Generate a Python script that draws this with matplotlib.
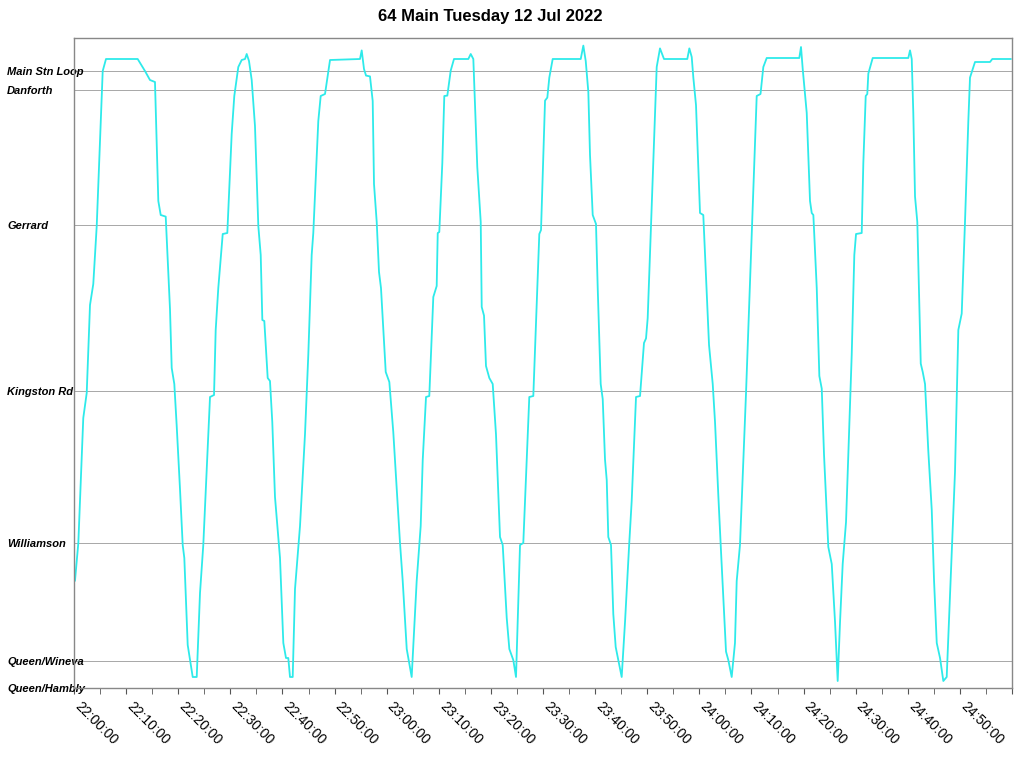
import numpy as np
import matplotlib
matplotlib.use("Agg")
import matplotlib.pyplot as plt
from matplotlib.ticker import MultipleLocator, FuncFormatter

plt.rcParams['font.family'] = ['Liberation Sans', 'DejaVu Sans']

# stops, distance from Queen/Hambly (metres)
stops = ["Queen/Hambly", "Queen/Wineva", "Williamson", "Kingston Rd",
         "Gerrard", "Danforth", "Main Stn Loop"]
stop_dist = [0, 135, 725, 1485, 2315, 2990, 3085]

# minutes after 22:00, distance (metres)
t_min = [0.19, 0.83, 1.78, 2.44, 3.07, 3.70, 4.36, 5.51, 6.14, 12.22,
         13.62, 14.58, 15.54, 16.18, 16.64, 17.60, 18.42, 18.75, 19.25, 19.71,
         20.34, 20.86, 21.17, 21.82, 22.78, 23.55, 24.18, 24.81, 26.10, 26.87,
         27.19, 27.69, 28.54, 29.42, 30.26, 30.76, 31.53, 32.18, 32.82, 33.14,
         33.58, 34.10, 34.73, 35.37, 35.83, 36.14, 36.52, 37.17, 37.61, 38.05,
         38.57, 39.53, 40.17, 40.68, 41.12, 41.45, 41.97, 42.41, 43.37, 44.33,
         44.96, 45.61, 45.92, 46.88, 47.34, 48.17, 49.13, 54.88, 55.21, 55.65,
         56.04, 56.80, 57.32, 57.57, 58.09, 58.53, 58.91, 59.82, 60.51, 61.27,
         61.93, 62.56, 63.08, 63.85, 64.80, 65.76, 66.53, 66.92, 67.55, 68.18,
         68.95, 69.60, 69.80, 70.10, 70.68, 71.06, 71.64, 72.29, 72.92, 75.67,
         76.13, 76.63, 77.39, 78.05, 78.24, 78.68, 79.06, 79.70, 80.35, 80.98,
         81.75, 82.27, 83.04, 83.54, 84.30, 84.82, 85.59, 86.22, 87.37, 88.14,
         89.29, 89.62, 90.06, 90.39, 90.83, 91.21, 91.86, 97.24, 97.74, 98.20,
         98.70, 99.02, 99.54, 100.17, 100.50, 101.07, 101.46, 101.90, 102.23, 102.53,
         103.05, 103.49, 103.95, 104.45, 105.10, 105.74, 106.51, 107.02, 107.85, 108.62,
         109.38, 109.77, 110.09, 111.82, 112.45, 113.22, 117.69, 118.08, 118.54, 118.85,
         119.36, 120.13, 120.76, 121.86, 122.57, 123.01, 123.64, 124.10, 124.49, 125.12,
         125.56, 126.21, 126.84, 127.17, 127.80, 128.96, 131.01, 131.74, 132.28, 132.93,
         139.18, 139.51, 139.84, 140.61, 141.24, 141.57, 141.88, 142.53, 143.03, 143.49,
         143.93, 144.75, 145.41, 146.04, 146.55, 147.00, 147.51, 148.15, 148.78, 149.24,
         149.74, 150.07, 151.16, 151.47, 151.93, 152.23, 152.43, 153.27, 160.10, 160.43,
         160.76, 161.06, 161.39, 161.83, 162.49, 162.87, 163.31, 163.94, 164.60, 165.04,
         165.56, 166.19, 166.82, 167.47, 169.06, 169.70, 170.35, 170.98, 171.62, 171.94,
         172.90, 175.78, 176.22, 179.75]
dist_m = [537, 725, 1350, 1475, 1915, 2020, 2310, 3085, 3145, 3145,
          3085, 3040, 3030, 2435, 2365, 2357, 1895, 1600, 1520, 1310,
          995, 715, 650, 215, 55, 55, 475, 715, 1455, 1465,
          1790, 2000, 2270, 2275, 2770, 2960, 3105, 3140, 3145, 3170,
          3135, 3040, 2810, 2310, 2165, 1840, 1835, 1550, 1535, 1330,
          955, 650, 225, 150, 150, 55, 55, 495, 810, 1270,
          1665, 2165, 2275, 2835, 2960, 2970, 3140, 3145, 3188, 3095,
          3062, 3058, 2935, 2520, 2330, 2080, 2000, 1580, 1530, 1280,
          995, 725, 535, 195, 55, 535, 810, 1140, 1455, 1460,
          1955, 2010, 2275, 2280, 2625, 2960, 2962, 3087, 3145, 3145,
          3170, 3145, 2605, 2330, 1905, 1862, 1610, 1550, 1520, 1268,
          755, 715, 350, 195, 140, 55, 715, 725, 1455, 1460,
          2270, 2290, 2665, 2937, 2952, 3052, 3145, 3145, 3212, 3135,
          2980, 2665, 2365, 2320, 2000, 1520, 1445, 1142, 1040, 755,
          715, 370, 205, 140, 55, 330, 705, 935, 1455, 1460,
          1725, 1748, 1850, 3105, 3198, 3145, 3145, 3198, 3155, 3052,
          2915, 2375, 2365, 1715, 1520, 1330, 965, 715, 515, 182,
          140, 55, 225, 535, 715, 1475, 2960, 2970, 3105, 3150,
          3150, 3205, 3095, 2875, 2435, 2375, 2365, 2000, 1560, 1497,
          1165, 705, 620, 330, 35, 330, 620, 830, 1310, 1665,
          2165, 2270, 2275, 2625, 2960, 2970, 3072, 3150, 3150, 3188,
          3145, 2875, 2457, 2330, 1622, 1580, 1520, 1185, 890, 537,
          225, 150, 35, 55, 1080, 1790, 1872, 2330, 2835, 3052,
          3130, 3130, 3145, 3145]

fig = plt.figure(figsize=(10.24, 7.57), dpi=100)
ax = fig.add_axes([74 / 1024, 1 - 688 / 757, 938 / 1024, 650 / 757])

ax.plot(t_min, dist_m, color="#2EEAEA", linewidth=1.3)

ax.set_xlim(0, 180)
ax.set_ylim(0, 3250)

for d in stop_dist[1:]:
    ax.axhline(d, color="#999999", linewidth=0.6, zorder=0)

ax.set_yticks(stop_dist)
ax.set_yticklabels(stops, fontsize=8, fontstyle="italic", fontweight="bold")
for lab in ax.get_yticklabels():
    lab.set_horizontalalignment("left")
ax.tick_params(axis="y", length=0, pad=48.2)


def hms(v, pos):
    m = int(round(v))
    if m >= 180:
        return ""
    return "%d:%02d:00" % (22 + m // 60, m % 60)


ax.xaxis.set_major_locator(MultipleLocator(10))
ax.xaxis.set_minor_locator(MultipleLocator(5))
ax.xaxis.set_major_formatter(FuncFormatter(hms))
ax.tick_params(axis="x", which="both", length=4, color="#555555",
               labelsize=10, pad=9.6)
for lab in ax.get_xticklabels():
    lab.set_rotation(-45)
    lab.set_horizontalalignment("left")
    lab.set_verticalalignment("baseline")
    lab.set_rotation_mode("anchor")

for s in ax.spines.values():
    s.set_color("#888888")
    s.set_linewidth(1)

fig.text(490 / 1024, 1 - 16 / 757, "64 Main Tuesday 12 Jul 2022",
         ha="center", va="center", fontsize=12, fontweight="bold")

fig.savefig("out.png", dpi=100)
